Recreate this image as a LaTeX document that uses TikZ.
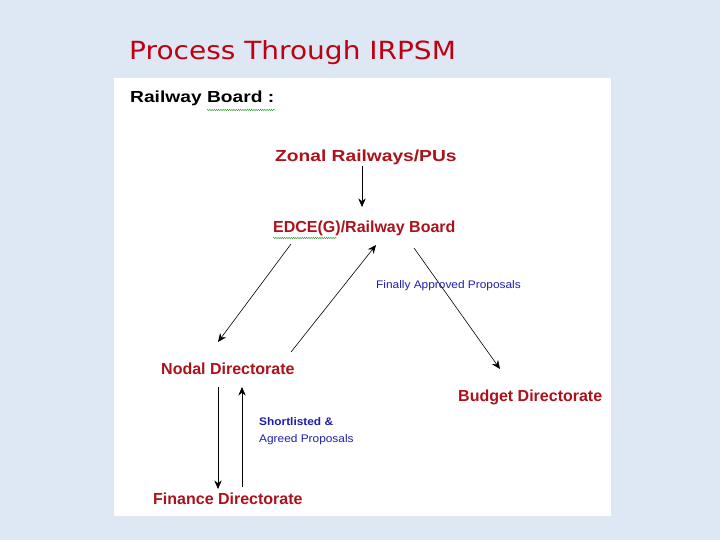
\documentclass[tikz,border=0pt]{standalone}
\usepackage{fontspec}
\setmainfont{Liberation Sans}
\newfontfamily\widefont[FakeStretch=1.2]{Liberation Sans}
\newfontfamily\notefont[FakeStretch=1.08]{Liberation Sans}
\newfontfamily\titlefont[FakeStretch=1.12]{DejaVu Sans}
\usetikzlibrary{arrows.meta,positioning,decorations.pathmorphing}
\definecolor{slidebg}{RGB}{222,232,245}
\definecolor{darkred}{RGB}{172,18,28}
\definecolor{titlered}{RGB}{190,0,16}
\definecolor{notes}{RGB}{30,30,175}
\definecolor{spell}{RGB}{60,150,60}

\begin{document}
\begin{tikzpicture}[
  x=1pt, y=-1pt,
  >={Stealth[length=3mm,width=2.6mm]},
  every node/.style={inner sep=0pt, anchor=west},
  unit/.style={font=\fontsize{16}{18}\selectfont\bfseries, text=darkred},
  note/.style={font=\notefont\fontsize{11}{17}\selectfont, text=notes, align=left},
  flow/.style={->, semithick, black},
  squiggle/.style={spell, line width=0.4pt,
    decorate, decoration={snake, amplitude=0.8pt, segment length=2.2pt}},
]
\useasboundingbox (0,0) rectangle (720,540);
\fill[slidebg] (0,0) rectangle (720,540);
\fill[white] (114,78) rectangle (611,516);

% title and heading
\node[font=\titlefont\fontsize{25}{28}\selectfont, text=titlered] (title) at (129,53) {Process Through IRPSM};
\node[font=\widefont\fontsize{16}{18}\selectfont\bfseries] (rb) at (130,98) {Railway Board :};
\draw[squiggle] (207,110) -- (275,110);

% units
\node[unit, font=\widefont\fontsize{16}{18}\selectfont\bfseries] (zonal) at (275,157) {Zonal Railways/PUs};
\node[unit] (edce)    at (273,228) {EDCE(G)/Railway Board};
\draw[squiggle] (273,238) -- (337,238);
\node[unit] (nodal)   at (161,369) {Nodal Directorate};
\node[unit] (budget)  at (458,397) {Budget Directorate};
\node[unit] (finance) at (153,499) {Finance Directorate};

% notes
\node[note] (approved) at (376,286) {Finally Approved Proposals};
\node[note] (agreed)   at (259,431) {\bfseries Shortlisted \&\\Agreed Proposals};

% arrow ends
\coordinate (zs) at (362,166);
\coordinate (et) at (362,207);
\coordinate (e1) at (291,244);
\coordinate (n1) at (218,342);
\coordinate (n2) at (291,352);
\coordinate (e2) at (376,245);
\coordinate (e3) at (414,248);
\coordinate (b1) at (500,369);
\coordinate (n3) at (218,387);
\coordinate (f1) at (218,489);
\coordinate (f2) at (242,487);
\coordinate (n4) at (242,387);

\draw[flow] (zs) -- (et);
\draw[flow] (e1) -- (n1);
\draw[flow] (n2) -- (e2);
\draw[flow] (e3) -- (b1);
\draw[flow] (n3) -- (f1);
\draw[flow] (f2) -- (n4);
\end{tikzpicture}
\end{document}
